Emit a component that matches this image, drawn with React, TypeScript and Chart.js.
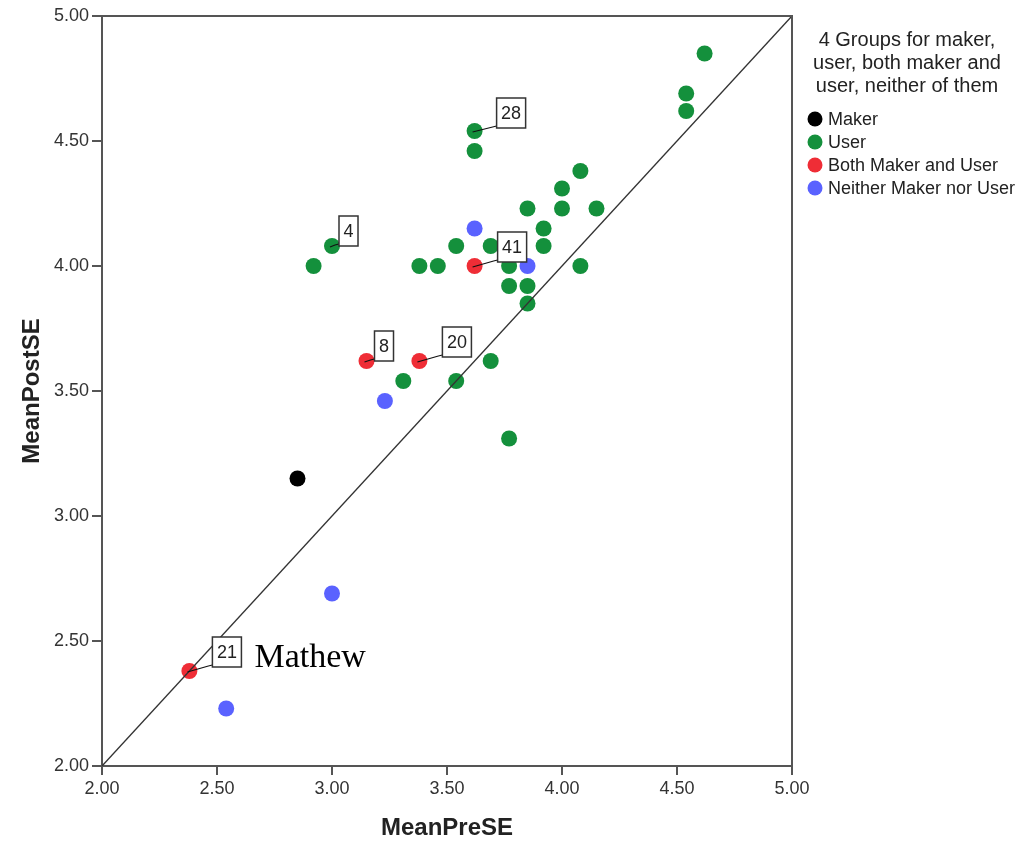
import React, { useEffect, useRef } from 'react';
import { Chart, registerables } from 'chart.js';

Chart.register(...registerables);

// ---- data ----
const seriesNames = ['Maker', 'User', 'Both Maker and User', 'Neither Maker nor User'];
const seriesColors = ['#000000', '#14903c', '#ef2d36', '#5a62ff'];

const makerPre = [2.85];
const makerPost = [3.15];

const userPre = [4.62, 4.54, 4.54, 3.62, 3.62, 4.08, 4.0, 3.85, 4.0, 4.15, 3.92, 3.0, 3.54, 3.69, 3.92, 2.92, 3.38, 3.46, 3.77, 4.08, 3.77, 3.85, 3.85, 3.31, 3.54, 3.69, 3.77];
const userPost = [4.85, 4.69, 4.62, 4.54, 4.46, 4.38, 4.31, 4.23, 4.23, 4.23, 4.15, 4.08, 4.08, 4.08, 4.08, 4.0, 4.0, 4.0, 4.0, 4.0, 3.92, 3.92, 3.85, 3.54, 3.54, 3.62, 3.31];

const bothPre = [3.62, 3.15, 3.38, 2.38];
const bothPost = [4.0, 3.62, 3.62, 2.38];

const neitherPre = [3.62, 3.85, 3.23, 3.0, 2.54];
const neitherPost = [4.15, 4.0, 3.46, 2.69, 2.23];

const refLine = [2, 5];
const axisTicks = [2.0, 2.5, 3.0, 3.5, 4.0, 4.5, 5.0];

const legendTitle = ['4 Groups for maker,', 'user, both maker and', 'user, neither of them'];
const xTitle = 'MeanPreSE';
const yTitle = 'MeanPostSE';

// case labels: series index, point index, text
const caseLabels = [
  { series: 1, index: 3, text: '28' },
  { series: 1, index: 11, text: '4' },
  { series: 2, index: 0, text: '41' },
  { series: 2, index: 1, text: '8' },
  { series: 2, index: 2, text: '20' },
  { series: 2, index: 3, text: '21' },
];
const noteText = 'Mathew';

// ---- styling (offsets for labels, pixel layout) ----
const labelOffsets: Record<string, [number, number]> = {
  '28': [22, -3],
  '4': [7, 0],
  '41': [23, -4],
  '8': [8, 0],
  '20': [23, -4],
  '21': [23, -4],
};

const FONT = '"Liberation Sans", Arial, sans-serif';

function pts(xs: number[], ys: number[]) {
  return xs.map((x, i) => ({ x, y: ys[i] }));
}

const overlayPlugin = {
  id: 'overlay',
  afterDatasetsDraw(chart: any) {
    const ctx = chart.ctx;
    const { left, right, top, bottom } = chart.chartArea;
    ctx.save();
    // top and right frame
    ctx.strokeStyle = '#555';
    ctx.lineWidth = 2;
    ctx.beginPath();
    ctx.moveTo(left, top);
    ctx.lineTo(right, top);
    ctx.lineTo(right, bottom);
    ctx.stroke();

    // case labels
    ctx.font = `18px ${FONT}`;
    ctx.textAlign = 'center';
    ctx.textBaseline = 'middle';
    for (const lab of caseLabels) {
      const meta = chart.getDatasetMeta(lab.series + 1);
      const el = meta.data[lab.index];
      if (!el) continue;
      const px = el.x;
      const py = el.y;
      const [dx, dy] = labelOffsets[lab.text] || [20, -4];
      const w = ctx.measureText(lab.text).width + 9;
      const h = 30;
      const bx = px + dx;
      const by = py + dy - h;
      ctx.strokeStyle = '#111';
      ctx.lineWidth = 1.2;
      ctx.beginPath();
      ctx.moveTo(px - 2, py + 1);
      ctx.lineTo(bx - 4, py + dy - 1);
      ctx.lineTo(bx, py + dy - 2);
      ctx.stroke();
      ctx.fillStyle = '#fff';
      ctx.fillRect(bx, by, w, h);
      ctx.strokeStyle = '#333';
      ctx.lineWidth = 1.5;
      ctx.strokeRect(bx, by, w, h);
      ctx.fillStyle = '#222';
      ctx.fillText(lab.text, bx + w / 2, by + h / 2 + 1);
      if (lab.text === '21') {
        ctx.save();
        ctx.font = '34px "Liberation Serif", "Times New Roman", serif';
        ctx.textAlign = 'left';
        ctx.textBaseline = 'alphabetic';
        ctx.fillStyle = '#000';
        ctx.fillText(noteText, px + 65, py - 4);
        ctx.restore();
      }
    }

    // legend
    ctx.fillStyle = '#222';
    ctx.font = `20px ${FONT}`;
    ctx.textAlign = 'center';
    ctx.textBaseline = 'middle';
    const titleY = [40, 63, 86];
    legendTitle.forEach((t, i) => ctx.fillText(t, 907, titleY[i]));
    ctx.font = `18px ${FONT}`;
    ctx.textAlign = 'left';
    const itemY = [119, 142, 165, 188];
    seriesNames.forEach((n, i) => {
      ctx.fillStyle = seriesColors[i];
      ctx.beginPath();
      ctx.arc(815, itemY[i], 7.5, 0, Math.PI * 2);
      ctx.fill();
      ctx.fillStyle = '#222';
      ctx.fillText(n, 828, itemY[i] + 1);
    });
    ctx.restore();
  },
};

export default function App() {
  const ref = useRef<HTMLCanvasElement | null>(null);

  useEffect(() => {
    if (!ref.current) return;
    const groups = [
      pts(makerPre, makerPost),
      pts(userPre, userPost),
      pts(bothPre, bothPost),
      pts(neitherPre, neitherPost),
    ];
    const scatterSets = groups.map((data, i) => ({
      type: 'scatter' as const,
      label: seriesNames[i],
      data,
      backgroundColor: seriesColors[i],
      borderColor: seriesColors[i],
      borderWidth: 0,
      pointRadius: 8,
      pointHoverRadius: 8,
      order: 2,
    }));
    const lineSet = {
      type: 'line' as const,
      label: 'ref',
      data: pts(refLine, refLine),
      borderColor: '#333',
      borderWidth: 1.4,
      pointRadius: 0,
      fill: false,
      order: 0,
    };
    const tickOpts = {
      color: '#333',
      font: { family: FONT, size: 18 },
      padding: 3,
      callback: (v: any) => Number(v).toFixed(2),
    };
    const chart = new Chart(ref.current, {
      type: 'scatter',
      data: { datasets: [lineSet as any, ...scatterSets] },
      plugins: [overlayPlugin],
      options: {
        animation: false,
        responsive: false,
        devicePixelRatio: 1,
        layout: { padding: { left: 0, right: 230, top: 16, bottom: 0 } },
        plugins: { legend: { display: false }, tooltip: { enabled: false } },
        scales: {
          x: {
            type: 'linear',
            min: 2,
            max: 5,
            afterBuildTicks: (s: any) => {
              s.ticks = axisTicks.map((v) => ({ value: v }));
            },
            afterFit: (s: any) => {
              s.height = 77;
            },
            ticks: tickOpts,
            grid: { display: true, drawOnChartArea: false, drawTicks: true, tickLength: 9, color: '#555', lineWidth: 2 },
            border: { display: true, color: '#555', width: 2 },
            title: {
              display: true,
              text: xTitle,
              color: '#222',
              font: { family: FONT, size: 24, weight: 'bold' },
              padding: { top: 0, bottom: 0 },
            },
          },
          y: {
            type: 'linear',
            min: 2,
            max: 5,
            afterBuildTicks: (s: any) => {
              s.ticks = axisTicks.map((v) => ({ value: v }));
            },
            afterFit: (s: any) => {
              s.width = 102;
            },
            ticks: tickOpts,
            grid: { display: true, drawOnChartArea: false, drawTicks: true, tickLength: 10, color: '#555', lineWidth: 2 },
            border: { display: true, color: '#555', width: 2 },
            title: {
              display: true,
              text: yTitle,
              color: '#222',
              font: { family: FONT, size: 24, weight: 'bold' },
              padding: { top: 18, bottom: 0 },
            },
          },
        },
      } as any,
    });
    return () => chart.destroy();
  }, []);

  return (
    <div style={{ position: 'absolute', left: 0, top: 0, width: 1022, height: 843, background: '#fff' }}>
      <canvas ref={ref} width={1022} height={843} style={{ width: 1022, height: 843, display: 'block' }} />
    </div>
  );
}
